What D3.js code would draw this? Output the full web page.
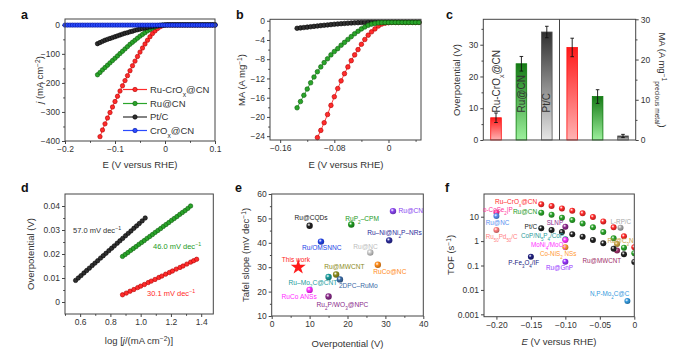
<!DOCTYPE html>
<html>
<head>
<meta charset="utf-8">
<script src="https://cdn.jsdelivr.net/npm/d3@7"></script>
<style>
  body { margin: 0; background: #fff; }
  svg { font-family: "Liberation Sans", Arial, sans-serif; }
  .ax line { stroke: #444; }
  .ax text { font-size: 8.5px; fill: #333; font-family: "Liberation Sans", Arial, sans-serif; }
</style>
</head>
<body>
<svg id="fig" width="699" height="354"></svg>
<script>
// ---------- data ----------
// a: LSV curves, potential grid (V vs RHE); each series is aligned to the end of the grid
const aE = [-0.2,-0.195,-0.19,-0.185,-0.18,-0.175,-0.17,-0.165,-0.16,-0.155,-0.15,-0.145,-0.14,
  -0.135,-0.13,-0.125,-0.12,-0.115,-0.11,-0.105,-0.1,-0.095,-0.09,-0.085,-0.08,-0.075,-0.07,-0.065,
  -0.06,-0.055,-0.05,-0.045,-0.04,-0.035,-0.03,-0.025,-0.02,-0.015,-0.01,-0.005,0,0.005,0.01,0.015,
  0.02,0.025,0.03,0.035,0.04,0.045,0.05,0.055,0.06,0.065,0.07,0.075,0.08,0.085,0.09,0.095,0.1];
const aRuCrOx = [-385,-362,-341,-321,-302,-283,-264,-246,-228,-210,-192,-175,-158,-141,-125,-109,
  -94,-80,-66,-53,-41,-30,-21,-13,-7,-3,-1,-0.5,-0.5,-0.5,-0.5,-0.5,-0.5,-0.5,-0.5,-0.5,-0.5,-0.5,
  -0.5,-0.5,-0.5,-0.5,-0.5,-0.5,-0.5,-0.5,-0.5];
const aRuCN = [-172,-164,-155,-147,-139,-131,-123,-115,-107,-99,-91,-83,-75,-67,-60,-53,-46,-39,
  -33,-27,-21,-16,-11,-7,-4,-2,-1,-0.5,-0.3,-0.3,-0.3,-0.3,-0.3,-0.3,-0.3,-0.3,-0.3,-0.3,-0.3,-0.3,
  -0.3,-0.3,-0.3,-0.3,-0.3,-0.3,-0.3,-0.3];
const aPtC = [-65,-61,-57,-53,-50,-47,-44,-41,-38,-35,-32,-29,-27,-24,-22,-19,-17,-15,-13,-11,-9,
  -7,-5.5,-4,-3,-2,-1,-0.5,0,0,0,0,0,0,0,0,0,0,0,0,0,0,0,0,0,0,0,0];
const aCrOx = [-1,-1,-1,-1,-1,-1,-1,-1,-1,-1,-1,-1,-1,-1,-1,-1,-1,-1,-1,-1,-1,-1,-1,-1,-1,-1,-1,
  -1,-1,-1,-1,-1,-1,-1,-1,-1,-1,-1,-1,-1,-1,-1,-1,-1,-1,-1,-1,-1,-1,-1,-1,-1,-1,-1,-1,-1,-1,-1,
  -1,-1,-1];
const aLegend = ["Ru-CrO_{x}@CN", "Ru@CN", "Pt/C", "CrO_{x}@CN"];

// b: mass activity (A mg-1)
const bE = [-0.135,-0.13,-0.125,-0.12,-0.115,-0.11,-0.105,-0.1,-0.095,-0.09,-0.085,-0.08,-0.075,
  -0.07,-0.065,-0.06,-0.055,-0.05,-0.045,-0.04,-0.035,-0.03,-0.025,-0.02,-0.015,-0.01,-0.005,0,
  0.005,0.01,0.015,0.02,0.025,0.03,0.035,0.04,0.045];
const bRuCrOx = [-24.3,-22.8,-21.2,-19.5,-17.6,-15.8,-14.1,-12.5,-11.0,-9.6,-8.3,-7.1,-6.0,-4.9,
  -3.9,-3.0,-2.3,-1.7,-1.1,-0.7,-0.5,-0.4,-0.35,-0.35,-0.35,-0.35,-0.35,-0.35,-0.35,-0.35,-0.35];
const bRuCN = [-18.1,-16.8,-15.5,-14.2,-12.9,-11.7,-10.6,-9.6,-8.7,-7.9,-7.1,-6.4,-5.8,-5.1,-4.5,
  -3.9,-3.3,-2.7,-2.2,-1.7,-1.3,-0.95,-0.7,-0.55,-0.45,-0.4,-0.38,-0.36,-0.35,-0.35,-0.35,-0.35,
  -0.35,-0.35,-0.35,-0.35,-0.35];
const bPtC = [-1.57,-1.49,-1.41,-1.33,-1.25,-1.17,-1.09,-1.01,-0.94,-0.87,-0.8,-0.73,-0.67,-0.61,
  -0.56,-0.51,-0.47,-0.43,-0.4,-0.37,-0.35,-0.33,-0.32,-0.31,-0.3,-0.3,-0.3,-0.3,-0.3,-0.3,-0.3,
  -0.3,-0.3,-0.3,-0.3,-0.3,-0.3];

// c: overpotential at 10 mA cm-2 and mass activity
const cNames = ["Ru-CrO_{x}@CN", "Ru@CN", "Pt/C"];
const cOver = [7, 24, 34];
const cOverErr = [1.5, 2.3, 1.8];
const cMA = [23, 10.8, 1.0];
const cMAErr = [2.3, 1.7, 0.4];

// d: Tafel plots
const dPtX = [0.57,0.588,0.606,0.625,0.643,0.661,0.68,0.698,0.716,0.735,0.753,0.771,0.79,0.808,
  0.826,0.845,0.863,0.881,0.9,0.918,0.936,0.955,0.973,0.991,1.01,1.03];
const dPtY = [0.009,0.010,0.011,0.0121,0.0131,0.0141,0.0152,0.0162,0.0172,0.0183,0.0193,0.0203,
  0.0214,0.0224,0.0234,0.0245,0.0255,0.0265,0.0276,0.0286,0.0296,0.0307,0.0317,0.0327,0.0338,0.035];
const dRuX = [0.88,0.898,0.916,0.934,0.952,0.97,0.988,1.006,1.024,1.042,1.06,1.078,1.096,1.114,
  1.132,1.15,1.168,1.186,1.204,1.222,1.24,1.258,1.276,1.294,1.312,1.33];
const dRuY = [0.019,0.0198,0.0206,0.0215,0.0223,0.0231,0.024,0.0248,0.0256,0.0265,0.0273,0.0281,
  0.029,0.0298,0.0306,0.0315,0.0323,0.0331,0.034,0.0348,0.0356,0.0365,0.0373,0.0381,0.039,0.04];
const dRuCrX = [0.88,0.905,0.93,0.955,0.98,1.0,1.025,1.05,1.07,1.095,1.12,1.14,1.165,1.19,1.21,
  1.235,1.26,1.28,1.305,1.33,1.35,1.37];
const dRuCrY = [0.003,0.0037,0.0045,0.0052,0.006,0.0066,0.0073,0.0081,0.0087,0.0094,0.0102,0.0108,
  0.0116,0.0123,0.0129,0.0137,0.0144,0.015,0.0158,0.0166,0.0172,0.0178];
const dSlopes = ["57.0 mV dec^{−1}", "46.0 mV dec^{−1}", "30.1 mV dec^{−1}"];

// e: comparison of Tafel slope vs overpotential
const eNames = ["Ru@CQDs","RuP_{2}–CPM","Ru@CN","Ru–Ni@Ni_{2}P–NRs","Ru/OMSNNC","Ru@NC",
  "Ru@MWCNT","RuCo@NC","Ru–Mo_{2}C@CNT","2DPC–RuMo","RuCo ANSs","Ru_{2}P/WO_{3}@NPC"];
const eEta = [10, 21, 32, 31, 13, 26, 17, 28, 15, 18, 10, 15];
const eTafel = [47, 47.5, 53, 41, 40.5, 36, 27, 31, 26, 25, 20.7, 18];
const eThisEta = 7, eThisTafel = 30;

// f: TOF
const fE = [-0.135,-0.12,-0.105,-0.09,-0.075,-0.06,-0.045,-0.03,-0.015,0];
const fRuCrOx = [32, 27.4, 21.9, 17.6, 13.7, 9.7, 6.4, 3.66, 1.57, 0.56];
const fRuCN = [14.6, 12.1, 9.1, 7.3, 5.3, 3.66, 2.36, 1.3, 0.54, 0.32];
const fPtC = [3.33, 2.85, 2.35, 1.89, 1.52, 1.11, 0.81, 0.49, 0.29, 0.14];
const fRefNames = ["o-CoSe_{2}|P","Ru@NC","Ru_{50}Pd_{50}/C","SLNP","CoP/Ni_{5}P_{4}/CoP",
  "MoNi_{4}/MoO_{2}","Co-NiS_{2} NSs","Ru@GnP","P-Fe_{3}O_{4}/IF","L-RP/C","Ru@C_{3}N","Ru@MWCNT",
  "N,P-Mo_{2}C@C"];
const fRefE = [-0.2,-0.2,-0.2,-0.1,-0.1,-0.1,-0.1,-0.1,-0.15,-0.02,-0.025,-0.025,-0.01];
const fRefTOF = [15, 10.6, 2.85, 3.9, 1.2, 1.1, 0.556, 0.144, 0.23, 3.55, 0.76, 0.41, 0.0035];

// ---------- styles / layout ----------
const RED = "#ff2b2b", RED_E = "#b00000";
const GRN = "#2aa52a", GRN_E = "#0b5d0b";
const BLK = "#303030", BLK_E = "#000";
const BLU = "#2a4bff", BLU_E = "#0010a0";
const eColors = ["#222","#1e9a1e","#8a45f0","#2b2b9a","#2244e6","#c9c9c9","#8c8c1e","#ff8c1a",
  "#1c9c9c","#3a6aa5","#ff2cff","#8a2a8a"];
const eDx = [-15,-6,5.5,-22,-19,-17,-12,-4.5,-40,-1,-28,-12];
const eDy = [-8,-6,0,-8,6,-6,-8,7,6,6,7,8.5];
const fColors = ["#ff3399","#5b8ff0","#ff7f7f","#8e2a8e","#2a9a9a","#ff33ff","#ff9933","#9933ff",
  "#202080","#a8a8a8","#c8a040","#a0306a","#3399dd"];
const fDx = [-13.4,-10.7,-10.7,-18.7,-44.4,-34.4,-25.4,-19.4,-22.6,-10,-9.5,-34.5,-37.5];
const fDy = [-3,7,6.7,-3.4,-3.6,5,6,6,6.6,-6,-3,10,-7];

const svg = d3.select("#fig");
const defs = svg.append("defs");

function rich(t, s) {
  s.split(/(_\{[^}]*\}|\^\{[^}]*\}|~[^~]*~)/).filter(p => p).forEach(p => {
    const ts = t.append("tspan");
    if (p[0] === "_" && p[1] === "{") ts.text(p.slice(2, -1)).attr("baseline-shift", "sub").attr("font-size", "70%");
    else if (p[0] === "^" && p[1] === "{") ts.text(p.slice(2, -1)).attr("baseline-shift", "super").attr("font-size", "70%");
    else if (p[0] === "~") ts.text(p.slice(1, -1)).attr("font-style", "italic");
    else ts.text(p);
  });
  return t;
}

function txt(g, x, y, s, size, color, anchor, rot) {
  const t = g.append("text").attr("font-size", size).attr("fill", color || "#333")
    .attr("text-anchor", anchor || "start");
  if (rot) t.attr("transform", `translate(${x},${y}) rotate(${rot})`);
  else t.attr("x", x).attr("y", y);
  return rich(t, s);
}

function box(g, x0, x1, y0, y1) {
  g.append("rect").attr("x", x0).attr("y", y0).attr("width", x1 - x0).attr("height", y1 - y0)
    .attr("fill", "none").attr("stroke", "#444").attr("stroke-width", 1);
}

function axis(g, orient, scale, pos, ticks, fmt, minor) {
  const mk = { bottom: d3.axisBottom, left: d3.axisLeft, right: d3.axisRight }[orient];
  const tr = orient === "bottom" ? `translate(0,${pos})` : `translate(${pos},0)`;
  g.append("g").attr("class", "ax").attr("transform", tr)
    .call(mk(scale).tickValues(ticks).tickFormat(fmt).tickSize(3).tickPadding(2))
    .call(a => a.select(".domain").remove());
  if (minor) g.append("g").attr("class", "ax").attr("transform", tr)
    .call(mk(scale).tickValues(minor).tickFormat("").tickSize(1.8))
    .call(a => a.select(".domain").remove());
}

function series(g, x, y, xs, ys, col, edge, r) {
  const pts = ys.map((v, i) => [xs[xs.length - ys.length + i], v]);
  g.append("path").datum(pts).attr("fill", "none").attr("stroke", col).attr("stroke-width", 0.9)
    .attr("d", d3.line().x(d => x(d[0])).y(d => y(d[1])));
  g.selectAll(null).data(pts).join("circle")
    .attr("cx", d => x(d[0])).attr("cy", d => y(d[1])).attr("r", r)
    .attr("fill", col).attr("stroke", edge).attr("stroke-width", 0.6);
}

let gid = 0;
function ball(color) {
  const id = "ball" + (gid++);
  const g = defs.append("radialGradient").attr("id", id).attr("cx", "38%").attr("cy", "35%").attr("r", "65%");
  g.append("stop").attr("offset", "0%").attr("stop-color", "#fff").attr("stop-opacity", 0.9);
  g.append("stop").attr("offset", "40%").attr("stop-color", color);
  g.append("stop").attr("offset", "100%").attr("stop-color", d3.color(color).darker(0.9));
  return `url(#${id})`;
}

function barGrad(top, bottom) {
  const id = "bar" + (gid++);
  const g = defs.append("linearGradient").attr("id", id).attr("x1", 0).attr("y1", 0).attr("x2", 0).attr("y2", 1);
  g.append("stop").attr("offset", "0%").attr("stop-color", top);
  g.append("stop").attr("offset", "100%").attr("stop-color", bottom);
  return `url(#${id})`;
}

const f1 = d => d === 0 ? "0" : d3.format(".1f")(d);
const f2 = d => d === 0 ? "0" : d3.format(".2f")(d);

// panel letters
[["a", 21, 19], ["b", 236, 19], ["c", 446, 19], ["d", 21, 192], ["e", 235, 192], ["f", 445, 192]]
  .forEach(([l, x, y]) => svg.append("text").attr("x", x).attr("y", y).attr("font-size", 12.5)
    .attr("font-weight", "bold").attr("fill", "#111").text(l));

// ---------- a ----------
{
  const g = svg.append("g");
  const x = d3.scaleLinear([-0.2, 0.1], [65, 215]);
  const y = d3.scaleLinear([-400, 20], [141, 19]);
  axis(g, "bottom", x, 141, [-0.2, -0.1, 0, 0.1], f1, [-0.15, -0.05, 0.05]);
  axis(g, "left", y, 65, [0, -100, -200, -300, -400], d3.format("d"), [-50, -150, -250, -350]);
  series(g, x, y, aE, aRuCrOx, RED, RED_E, 2.2);
  series(g, x, y, aE, aRuCN, GRN, GRN_E, 2.2);
  series(g, x, y, aE, aPtC, BLK, BLK_E, 2.2);
  series(g, x, y, aE, aCrOx, BLU, BLU_E, 2.2);
  box(g, 65, 215, 19, 141);
  const cols = [[RED, RED_E], [GRN, GRN_E], [BLK, BLK_E], [BLU, BLU_E]];
  const ly = [89.5, 103.5, 117, 130.5];
  aLegend.forEach((s, i) => {
    g.append("line").attr("x1", 123).attr("x2", 147).attr("y1", ly[i]).attr("y2", ly[i])
      .attr("stroke", cols[i][0]).attr("stroke-width", 1.2);
    g.append("circle").attr("cx", 135).attr("cy", ly[i]).attr("r", 2.2)
      .attr("fill", cols[i][0]).attr("stroke", cols[i][1]).attr("stroke-width", 0.6);
    txt(g, 150, ly[i] + 3.4, s, 9.5, "#333");
  });
  txt(g, 140, 168, "E (V versus RHE)", 9.5, "#333", "middle");
  txt(g, 43, 80, "~j~ (mA cm^{−2})", 9.5, "#333", "middle", -90);
}

// ---------- b ----------
{
  const g = svg.append("g");
  const x = d3.scaleLinear([-0.175, 0.048], [270, 421]);
  const y = d3.scaleLinear([-24.8, 0.3], [140, 19.3]);
  axis(g, "bottom", x, 140, [-0.16, -0.08, 0], f2, [-0.12, -0.04, 0.04]);
  axis(g, "left", y, 270, [0, -4, -8, -12, -16, -20, -24], d3.format("d"), [-2, -6, -10, -14, -18, -22]);
  series(g, x, y, bE, bRuCrOx, RED, RED_E, 2.3);
  series(g, x, y, bE, bPtC, BLK, BLK_E, 2.3);
  series(g, x, y, bE, bRuCN, GRN, GRN_E, 2.3);
  box(g, 270, 421, 19.3, 140);
  txt(g, 346, 168, "E (V versus RHE)", 9.5, "#333", "middle");
  txt(g, 245, 80, "MA (A mg^{−1})", 9.5, "#333", "middle", -90);
}

// ---------- c ----------
{
  const g = svg.append("g");
  const x = d3.scalePoint().domain(d3.range(6)).range([483.3, 635.7]).padding(0.5);
  const yL = d3.scaleLinear([0, 38], [140, 19.3]);
  const yR = d3.scaleLinear([0, 30], [140, 19.3]);
  const fills = [barGrad("#ff1a1a", "#ffb3b3"), barGrad("#167a16", "#9cf09c"), barGrad("#303030", "#e6e6e6")];
  const strokes = ["#ff1010", "#0b7a0b", "#555"];
  const bw = 10.6;
  const bars = cOver.map((v, i) => ({ i, v, e: cOverErr[i], y: yL }))
    .concat(cMA.map((v, i) => ({ i: i + 3, v, e: cMAErr[i], y: yR })));
  g.selectAll(null).data(bars).join("rect")
    .attr("x", d => x(d.i) - bw / 2).attr("width", bw)
    .attr("y", d => d.y(d.v)).attr("height", d => 140 - d.y(d.v))
    .attr("fill", d => fills[d.i % 3]).attr("stroke", d => strokes[d.i % 3]).attr("stroke-width", 0.8);
  bars.forEach(d => {
    const cx = x(d.i), y1 = d.y(d.v + d.e), y2 = d.y(d.v - d.e);
    g.append("line").attr("x1", cx).attr("x2", cx).attr("y1", y1).attr("y2", y2).attr("stroke", "#111").attr("stroke-width", 0.9);
    [y1, y2].forEach(yy => g.append("line").attr("x1", cx - 1.8).attr("x2", cx + 1.8)
      .attr("y1", yy).attr("y2", yy).attr("stroke", "#111").attr("stroke-width", 0.9));
  });
  cNames.forEach((s, i) => txt(g, x(i) + 3.6, 112.5, s, 10, "#333", "start", -90));
  axis(g, "left", yL, 483.3, [0, 10, 20, 30], d3.format("d"), [5, 15, 25, 35]);
  axis(g, "right", yR, 635.7, [0, 10, 20, 30], d3.format("d"), [5, 15, 25]);
  box(g, 483.3, 635.7, 19.3, 140);
  g.append("line").attr("x1", 559.5).attr("x2", 559.5).attr("y1", 19.3).attr("y2", 140)
    .attr("stroke", "#444").attr("stroke-width", 1);
  txt(g, 460, 80, "Overpotential (V)", 9.5, "#333", "middle", -90);
  txt(g, 659, 80, "MA (A mg^{−1}_{precious metal})", 9.5, "#333", "middle", 90);
}

// ---------- d ----------
{
  const g = svg.append("g");
  const x = d3.scaleLinear([0.5, 1.48], [65, 213.3]);
  const y = d3.scaleLinear([-0.005, 0.045], [314, 194]);
  axis(g, "bottom", x, 314, [0.6, 0.8, 1.0, 1.2, 1.4], f1, [0.5, 0.7, 0.9, 1.1, 1.3]);
  axis(g, "left", y, 65, [0, 0.01, 0.02, 0.03, 0.04], f2, [0.005, 0.015, 0.025, 0.035]);
  series(g, x, y, dPtX, dPtY, BLK, BLK_E, 2.2);
  series(g, x, y, dRuX, dRuY, GRN, GRN_E, 2.2);
  series(g, x, y, dRuCrX, dRuCrY, RED, RED_E, 2.2);
  box(g, 65, 213.3, 194, 314);
  txt(g, 73, 233, dSlopes[0], 7.5, "#333");
  txt(g, 153, 249, dSlopes[1], 7.5, "#1e9a1e");
  txt(g, 147, 295.5, dSlopes[2], 7.5, "#ff2b2b");
  txt(g, 139, 344, "log [~j~/(mA cm^{−2})]", 9.5, "#333", "middle");
  txt(g, 33.5, 254, "Overpotential (V)", 9.5, "#333", "middle", -90);
}

// ---------- e ----------
{
  const g = svg.append("g");
  const x = d3.scaleLinear([0, 40], [271.7, 423.3]);
  const y = d3.scaleLinear([10, 60], [316, 194]);
  axis(g, "bottom", x, 316, [0, 10, 20, 30, 40], d3.format("d"), [5, 15, 25, 35]);
  axis(g, "left", y, 271.7, [10, 20, 30, 40, 50, 60], d3.format("d"), [15, 25, 35, 45, 55]);
  box(g, 271.7, 423.3, 194, 316);
  eNames.forEach((s, i) => {
    const px = x(eEta[i]), py = y(eTafel[i]);
    g.append("circle").attr("cx", px).attr("cy", py).attr("r", 3.2).attr("fill", ball(eColors[i]));
    txt(g, px + eDx[i], py + eDy[i] + 2.3, s, 6.6, eColors[i] === "#c9c9c9" ? "#bdbdbd" : eColors[i]);
  });
  g.append("path").attr("d", d3.symbol(d3.symbolStar, 70)())
    .attr("transform", `translate(${x(eThisEta)},${y(eThisTafel)})`).attr("fill", "#ff1a1a");
  txt(g, x(eThisEta) - 16.5, y(eThisTafel) - 5.7, "This work", 6.6, "#ff1a1a");
  txt(g, 347.5, 347, "Overpotential (V)", 9.5, "#333", "middle");
  txt(g, 248.5, 255, "Tafel slope (mV dec^{−1})", 9.5, "#333", "middle", -90);
}

// ---------- f ----------
{
  const g = svg.append("g");
  const x = d3.scaleLinear([-0.218, 0], [484, 634.3]);
  const y = d3.scaleLog([0.0008, 85], [316.7, 194]);
  defs.append("clipPath").attr("id", "clipf").append("rect")
    .attr("x", 484).attr("y", 194).attr("width", 150.3).attr("height", 122.7);
  axis(g, "bottom", x, 316.7, [-0.2, -0.15, -0.1, -0.05, 0], f2);
  axis(g, "left", y, 484, [0.001, 0.01, 0.1, 1, 10], d => d >= 1 ? d3.format("d")(d) : String(d));
  const p = g.append("g").attr("clip-path", "url(#clipf)");
  const grads = fRefNames.map((s, i) => ball(fColors[i]));
  fRefNames.forEach((s, i) => p.append("circle").attr("cx", x(fRefE[i])).attr("cy", y(fRefTOF[i]))
    .attr("r", 3).attr("fill", grads[i]));
  [[fRuCrOx, RED], [fRuCN, GRN], [fPtC, "#222"]].forEach(([vals, col]) => {
    const gr = ball(col);
    p.selectAll(null).data(vals).join("circle")
      .attr("cx", (d, i) => x(fE[i])).attr("cy", d => y(d)).attr("r", 3).attr("fill", gr);
  });
  box(g, 484, 634.3, 194, 316.7);
  fRefNames.forEach((s, i) => txt(g, x(fRefE[i]) + fDx[i], y(fRefTOF[i]) + fDy[i] + 2.2, s, 6.3, fColors[i]));
  txt(g, x(fE[0]) - 4, y(fRuCrOx[0]) - 0.5, "Ru–CrO_{x}@CN", 6.5, RED, "end");
  txt(g, x(fE[0]) - 4, y(fRuCN[0]) + 1.5, "Ru@CN", 6.5, "#1e9a1e", "end");
  txt(g, x(fE[0]) - 4, y(fPtC[0]) + 0.5, "Pt/C", 6.5, "#222", "end");
  txt(g, 559, 345, "~E~ (V versus RHE)", 9.5, "#333", "middle");
  txt(g, 453.5, 255, "TOF (s^{−1})", 9.5, "#333", "middle", -90);
}
</script>
</body>
</html>
